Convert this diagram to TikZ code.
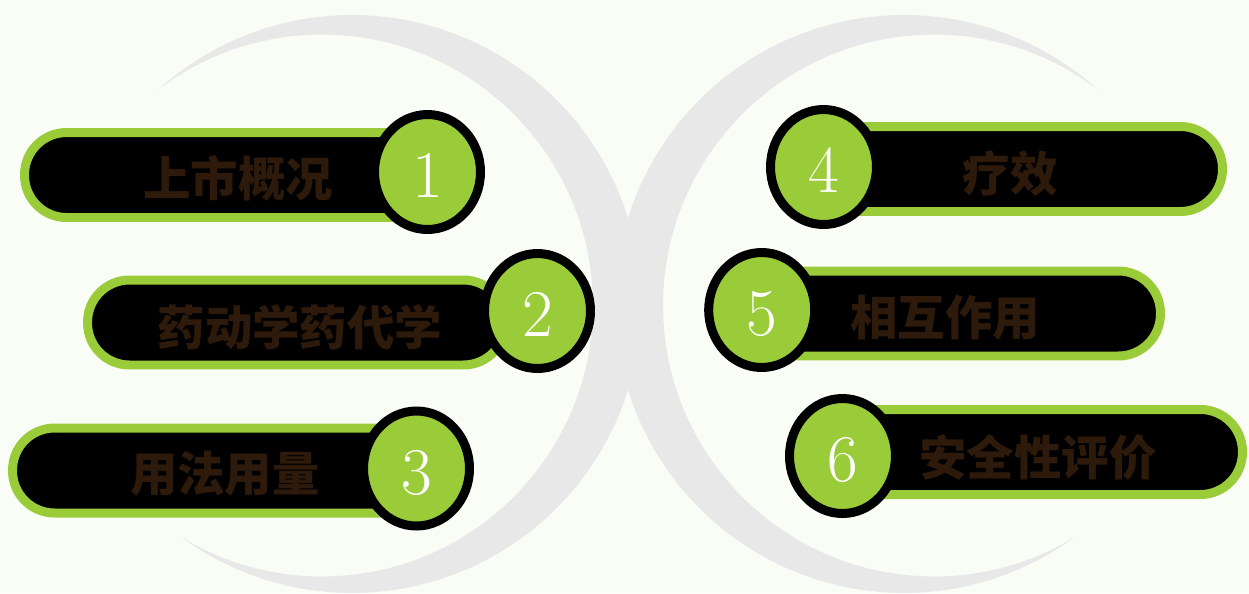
\documentclass[tikz,border=0pt]{standalone}
\usepackage{fontspec}
\newfontfamily\cjk{Noto Sans CJK SC}
\usepackage{tikz}
\usetikzlibrary{shapes.geometric}
\definecolor{bgc}{RGB}{250,253,246}
\definecolor{arcgray}{RGB}{232,232,232}
\definecolor{leaf}{RGB}{154,204,58}
\definecolor{ink}{RGB}{46,26,10}

\begin{document}
\begin{tikzpicture}[x=0.02cm,y=-0.02cm,
  pill/.style={draw=leaf,fill=black,line width=0.18cm,rounded corners=0.84cm,minimum height=1.7cm,inner sep=0pt},
  num/.style={ellipse,draw=black,fill=leaf,line width=0.18cm,minimum width=2.12cm,minimum height=2.3cm,inner sep=0pt,
    text=white,text height=29.5pt,text depth=0pt,font=\fontsize{38}{40}\selectfont},
  lbl/.style={text=ink,inner sep=0pt,font=\cjk\bfseries\fontsize{27}{30}\selectfont}]
 \fill[bgc] (0,0) rectangle (1249,593);
 \useasboundingbox (0,0) rectangle (1249,593);
 % two crescents behind
 \foreach \ox/\ix in {352/322,904/934}{
  \begin{scope}
   \clip (\ox,304) circle (5.78cm);
   \fill[arcgray,even odd rule] (-100,-100) rectangle (1350,700) (\ix,305.5) circle (5.42cm);
  \end{scope}}
 % bars
 \node[pill,minimum width=8.82cm] (p1) at (245,175) {};
 \node[pill,minimum width=8.36cm] (p2) at (296.5,322.5) {};
 \node[pill,minimum width=8.76cm] (p3) at (231.5,470.5) {};
 \node[pill,minimum width=8.56cm] (p4) at (1008.5,169) {};
 \node[pill,minimum width=8.72cm] (p5) at (942.5,313.5) {};
 \node[pill,minimum width=8.76cm] (p6) at (1023.5,452) {};
 % labels
 \node[lbl] (t1) at (238,178) {上市概况};
 \node[lbl] (t2) at (300,327) {药动学药代学};
 \node[lbl] (t3) at (225,474) {用法用量};
 \node[lbl] (t4) at (1010,173) {疗效};
 \node[lbl] (t5) at (945,318) {相互作用};
 \node[lbl] (t6) at (1038,457) {安全性评价};
 % numbers
 \node[num] (n1) at (427.5,172) {1};
 \node[num] (n2) at (537.5,311) {2};
 \node[num] (n3) at (416.5,468.5) {3};
 \node[num] (n4) at (823.5,167) {4};
 \node[num] (n5) at (761.7,310) {5};
 \node[num] (n6) at (842.5,456) {6};
\end{tikzpicture}
\end{document}
